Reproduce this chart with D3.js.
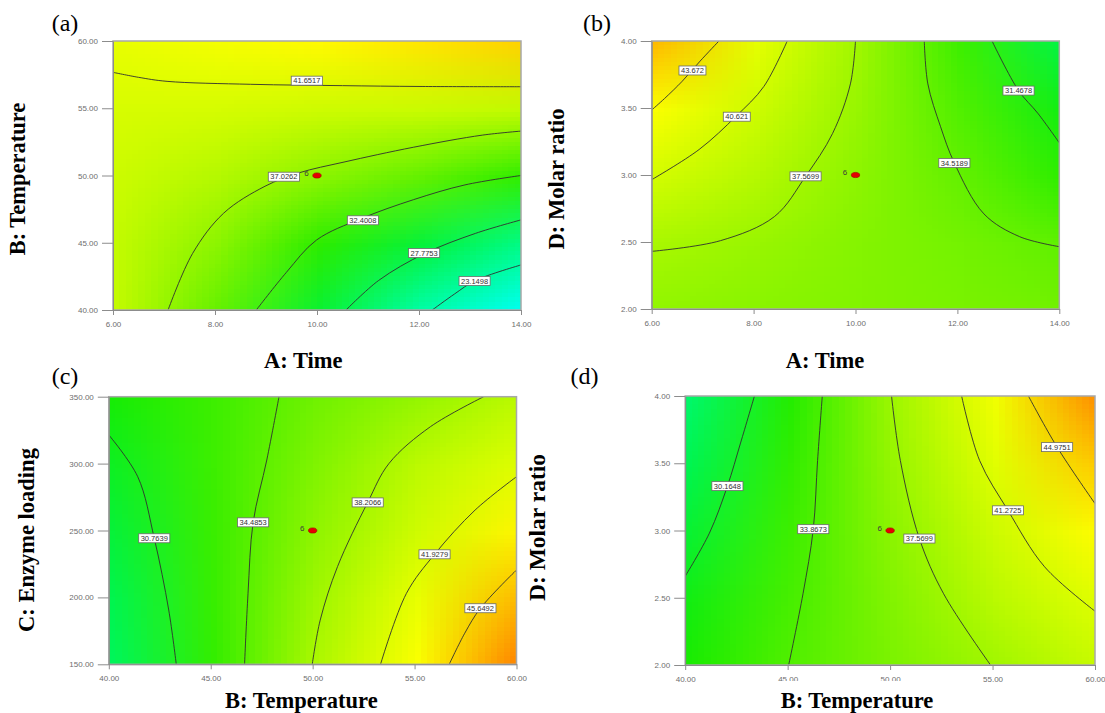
<!DOCTYPE html>
<html>
<head>
<meta charset="utf-8">
<script src="https://cdn.jsdelivr.net/npm/d3@7/dist/d3.min.js"></script>
<style>
  body { margin: 0; background: #fff; }
  .tick text { font-family: Arial, "Liberation Sans", sans-serif; font-size: 8px; fill: #6e6e6e; }
  .tick line, .domain { stroke: #8c8c8c; }
  .axisTitle { font-family: "Liberation Serif", "Times New Roman", serif; font-weight: bold; font-size: 22.5px; fill: #000; }
  .panelTag { font-family: "Liberation Serif", "Times New Roman", serif; font-size: 24px; fill: #000; }
  .clabel text { font-family: Arial, "Liberation Sans", sans-serif; font-size: 7.5px; fill: #333; }
</style>
</head>
<body>
<svg id="chart" width="1105" height="713"></svg>
<script>

// factor ticks
var timeTicks = [6, 8, 10, 12, 14];
var tempTicks = [40, 45, 50, 55, 60];
var enzymeTicks = [150, 200, 250, 300, 350];
var molarTicks = [2, 2.5, 3, 3.5, 4];

// response read at the tick crossings (rows go from lowest y tick up)
var gridA = [
  [39.5, 34.6, 29.3, 23.9, 19.5],
  [39.5, 36.5, 32.3, 28.9, 25.4],
  [40.2, 38.6, 36.5, 34.5, 32.4],
  [41.0, 40.9, 40.3, 40.0, 39.4],
  [42.3, 43.2, 44.2, 45.0, 45.8]
];
var gridB = [
  [36.8, 36.4, 36.0, 35.6, 35.2],
  [38.0, 37.2, 36.2, 35.3, 34.4],
  [40.7, 38.65, 36.6, 34.6, 32.4],
  [43.6, 40.3, 37.1, 33.8, 30.7],
  [46.7, 42.1, 37.57, 33.0, 28.5]
];
var gridC = [
  [27.5, 32.6, 38.2, 43.8, 49.3],
  [28.1, 32.8, 37.5, 42.4, 46.8],
  [29.0, 32.9, 36.7, 40.4, 44.4],
  [30.0, 33.0, 35.9, 39.0, 41.6],
  [31.3, 33.0, 35.1, 37.0, 39.0]
];
var gridD = [
  [31.6, 33.85, 35.7, 37.6, 39.8],
  [30.7, 33.4, 36.1, 38.9, 41.7],
  [29.3, 33.0, 36.6, 40.25, 44.1],
  [28.0, 32.5, 37.1, 41.8, 46.1],
  [26.8, 32.0, 37.5, 43.0, 48.7]
];

// contour lines, in factor units
var contoursA = [
  [[6, 57.67], [6.5, 57.3], [7.06, 57.0], [8.7, 56.78], [10.5, 56.68], [12, 56.62], [14, 56.6]],
  [[7.08, 40], [7.56, 44.2], [8.17, 47.2], [8.98, 49.2], [9.65, 50.2], [10.53, 51.0], [11.89, 52.1], [13.24, 53.0], [14, 53.3]],
  [[8.81, 40], [9.4, 42.8], [9.99, 45.2], [10.87, 46.8], [11.89, 48.2], [12.9, 49.3], [14, 50.0]],
  [[10.57, 40], [11.21, 42.2], [12.11, 44.2], [13.11, 45.7], [14, 46.7]],
  [[12.26, 40], [12.7, 41.2], [13.11, 42.2], [14, 43.35]]
];
var contoursB = [
  [[7.32, 4.0], [6.95, 3.85], [6.6, 3.7], [6.25, 3.57], [6.0, 3.485]],
  [[8.66, 4.0], [8.2, 3.66], [7.66, 3.44], [6.93, 3.19], [6.0, 2.965]],
  [[10.0, 4.0], [9.9, 3.68], [9.55, 3.31], [9.02, 2.99], [8.41, 2.69], [7.35, 2.51], [6.0, 2.43]],
  [[11.35, 4.0], [11.42, 3.68], [11.67, 3.36], [11.94, 3.09], [12.52, 2.71], [13.22, 2.54], [14, 2.465]],
  [[12.68, 4.0], [13.2, 3.63], [13.58, 3.46], [14, 3.24]]
];
var contoursC = [
  [[40, 321.4], [41.42, 290.2], [42.23, 244.2], [42.94, 190.6], [43.31, 150]],
  [[48.35, 350], [47.75, 302.7], [47.08, 256.1], [46.83, 203], [46.66, 150]],
  [[58.39, 350], [55.78, 327.6], [53.75, 300.2], [52.7, 271], [51.22, 223], [50.37, 183], [49.98, 150]],
  [[60, 290.2], [57.97, 265.3], [55.98, 232.2], [54.6, 203], [53.33, 150]],
  [[60, 220.5], [58.23, 191.9], [57.46, 173.2], [56.7, 150]]
];
var contoursD = [
  [[43.38, 4], [42.7, 3.65], [42.06, 3.33], [41.18, 2.98], [40, 2.66]],
  [[46.69, 4], [46.46, 3.52], [46.25, 3.01], [45.75, 2.53], [45.05, 2.0]],
  [[50.07, 4], [50.5, 3.52], [51.43, 2.94], [52.61, 2.53], [54.9, 2.0]],
  [[53.49, 4], [54.37, 3.52], [55.75, 3.15], [57.54, 2.73], [60, 2.40]],
  [[56.75, 4], [58.15, 3.62], [60, 3.2]]
];

// contour level labels and where they sit
var levelsA = ["41.6517", "37.0262", "32.4008", "27.7753", "23.1498"];
var levelPosA = [[9.8, 57.05], [9.35, 49.91], [10.9, 46.67], [12.1, 44.24], [13.09, 42.16]];
var levelsB = ["43.672", "40.621", "37.5699", "34.5189", "31.4678"];
var levelPosB = [[6.8, 3.78], [7.67, 3.435], [9.02, 2.99], [11.94, 3.09], [13.2, 3.63]];
var levelsC = ["30.7639", "34.4853", "38.2066", "41.9279", "45.6492"];
var levelPosC = [[42.23, 244.2], [47.08, 256.1], [52.7, 271], [55.98, 232.2], [58.23, 191.9]];
var levelsD = ["30.1648", "33.8673", "37.5699", "41.2725", "44.9751"];
var levelPosD = [[42.06, 3.33], [46.25, 3.01], [51.43, 2.94], [55.75, 3.15], [58.15, 3.62]];

// centre point of the design, with its replicate count
var centreA = [10, 50], centreB = [10, 3], centreC = [50, 250], centreD = [50, 3];
var centreCount = "6";

var svg = d3.select("#chart");

var colorScale = d3.scaleLinear()
    .domain([19, 24, 28, 31.5, 35, 39, 42, 44, 46.5, 49.5])
    .range(["#00ffff", "#00ffa8", "#00f550", "#18ec00", "#6ef200", "#bcfa00", "#e4ff00", "#ffff00", "#ffc000", "#ff7a00"])
    .clamp(true);

var panels = [
  {tag: "a", grid: gridA, xTicks: timeTicks, yTicks: tempTicks, contours: contoursA, levels: levelsA, levelPos: levelPosA, centre: centreA,
   left: 113, right: 521, top: 41, bottom: 310},
  {tag: "b", grid: gridB, xTicks: timeTicks, yTicks: molarTicks, contours: contoursB, levels: levelsB, levelPos: levelPosB, centre: centreB,
   left: 651.7, right: 1059.3, top: 41, bottom: 309},
  {tag: "c", grid: gridC, xTicks: tempTicks, yTicks: enzymeTicks, contours: contoursC, levels: levelsC, levelPos: levelPosC, centre: centreC,
   left: 108.8, right: 516.5, top: 396.7, bottom: 664.3},
  {tag: "d", grid: gridD, xTicks: tempTicks, yTicks: molarTicks, contours: contoursD, levels: levelsD, levelPos: levelPosD, centre: centreD,
   left: 685.2, right: 1095, top: 396, bottom: 665}
];

function drawPanel(p) {
  var x = d3.scaleLinear().domain(d3.extent(p.xTicks)).range([p.left, p.right]);
  var y = d3.scaleLinear().domain(d3.extent(p.yTicks)).range([p.bottom, p.top]);
  var g = svg.append("g").attr("class", "panel-" + p.tag);
  var clipId = "clip-" + p.tag;

  g.append("clipPath").attr("id", clipId)
    .append("rect")
      .attr("x", p.left).attr("y", p.top)
      .attr("width", p.right - p.left).attr("height", p.bottom - p.top);

  // one pixel per grid value, the browser smooths it when stretched
  var nx = p.xTicks.length, ny = p.yTicks.length;
  var canvas = document.createElement("canvas");
  canvas.width = nx;
  canvas.height = ny;
  var ctx = canvas.getContext("2d");
  p.grid.forEach(function(row, j) {
    row.forEach(function(v, i) {
      ctx.fillStyle = colorScale(v);
      ctx.fillRect(i, ny - 1 - j, 1, 1);
    });
  });
  var dx = x(p.xTicks[1]) - x(p.xTicks[0]);
  var dy = y(p.yTicks[0]) - y(p.yTicks[1]);
  g.append("image")
    .attr("href", canvas.toDataURL())
    .attr("x", x(p.xTicks[0]) - dx / 2)
    .attr("y", y(p.yTicks[ny - 1]) - dy / 2)
    .attr("width", dx * nx)
    .attr("height", dy * ny)
    .attr("preserveAspectRatio", "none")
    .attr("clip-path", "url(#" + clipId + ")");

  // contour lines
  var line = d3.line()
      .x(function(d) { return x(d[0]); })
      .y(function(d) { return y(d[1]); })
      .curve(d3.curveCatmullRom.alpha(0.5));

  g.append("g")
      .attr("clip-path", "url(#" + clipId + ")")
    .selectAll("path")
      .data(p.contours)
    .enter().append("path")
      .attr("d", line)
      .attr("fill", "none")
      .attr("stroke", "#303030")
      .attr("stroke-width", 0.9);

  // frame
  g.append("rect")
    .attr("x", p.left).attr("y", p.top)
    .attr("width", p.right - p.left).attr("height", p.bottom - p.top)
    .attr("fill", "none")
    .attr("stroke", "#a8a8a8")
    .attr("stroke-width", 1.5);

  // axes
  var yAxis = d3.axisLeft(y)
      .tickValues(p.yTicks)
      .tickFormat(d3.format(".2f"))
      .tickSize(11).tickSizeOuter(0).tickPadding(4);
  var xAxis = d3.axisBottom(x)
      .tickValues(p.xTicks)
      .tickFormat(d3.format(".2f"))
      .tickSize(5).tickSizeOuter(0).tickPadding(6);

  g.append("g").attr("class", "yAxis")
    .attr("transform", "translate(" + p.left + ",0)")
    .call(yAxis);
  g.append("g").attr("class", "xAxis")
    .attr("transform", "translate(0," + p.bottom + ")")
    .call(xAxis);
  g.selectAll(".tick text").attr("font-family", null).attr("font-size", null);

  // level labels on the lines
  var labels = g.selectAll(".clabel")
      .data(p.levels.map(function(t, i) { return {text: t, pos: p.levelPos[i]}; }))
    .enter().append("g")
      .attr("class", "clabel")
      .attr("transform", function(d) { return "translate(" + x(d.pos[0]) + "," + y(d.pos[1]) + ")"; });
  labels.append("text")
      .attr("text-anchor", "middle")
      .attr("dy", "0.36em")
      .text(function(d) { return d.text; });
  labels.each(function() {
    var el = d3.select(this);
    var w = el.select("text").node().getComputedTextLength() + 4;
    el.insert("rect", "text")
      .attr("x", -w / 2).attr("y", -4.5)
      .attr("width", w).attr("height", 9)
      .attr("fill", "#fff")
      .attr("stroke", "#6a6a6a")
      .attr("stroke-width", 0.8);
  });

  // design centre point
  g.append("ellipse")
    .attr("cx", x(p.centre[0])).attr("cy", y(p.centre[1]))
    .attr("rx", 4.2).attr("ry", 2.6)
    .attr("fill", "#e60000")
    .attr("stroke", "#a00000")
    .attr("stroke-width", 0.6);
  g.append("text")
    .attr("x", x(p.centre[0]) - 10.4).attr("y", y(p.centre[1]) - 2.4)
    .attr("dy", "0.35em")
    .attr("text-anchor", "middle")
    .style("font-family", "Arial, sans-serif")
    .style("font-size", "8px")
    .style("fill", "#3c3c3c")
    .text(centreCount);
}

panels.forEach(drawPanel);

// white boxes behind the lower axis titles clip some tick labels, as in the source figure
svg.append("rect").attr("x", 195).attr("y", 681).attr("width", 235).attr("height", 32).attr("fill", "#fff");
svg.append("rect").attr("x", 770).attr("y", 681).attr("width", 174).attr("height", 32).attr("fill", "#fff");

// panel tags
var tags = [["(a)", 51.7, 30.7], ["(b)", 583, 30.7], ["(c)", 51.7, 383.7], ["(d)", 570.6, 383.7]];
svg.selectAll(".panelTag")
    .data(tags)
  .enter().append("text")
    .attr("class", "panelTag")
    .attr("x", function(d) { return d[1]; })
    .attr("y", function(d) { return d[2]; })
    .text(function(d) { return d[0]; });

// axis titles
var xTitles = [["A: Time", 303.3, 368], ["A: Time", 825, 368], ["B: Temperature", 301.3, 707.5], ["B: Temperature", 857, 707.5]];
svg.selectAll(".xTitle")
    .data(xTitles)
  .enter().append("text")
    .attr("class", "axisTitle xTitle")
    .attr("text-anchor", "middle")
    .attr("x", function(d) { return d[1]; })
    .attr("y", function(d) { return d[2]; })
    .text(function(d) { return d[0]; });

var yTitles = [["B: Temperature", 17.2, 179, 22.5], ["D: Molar ratio", 556.2, 179, 22.5],
               ["C: Enzyme loading", 25.8, 540, 22.5], ["D: Molar ratio", 536.7, 527.5, 23.5]];
svg.selectAll(".yTitle")
    .data(yTitles)
  .enter().append("text")
    .attr("class", "axisTitle yTitle")
    .attr("text-anchor", "middle")
    .attr("dy", "0.35em")
    .style("font-size", function(d) { return d[3] + "px"; })
    .attr("transform", function(d) { return "translate(" + d[1] + "," + d[2] + ") rotate(-90)"; })
    .text(function(d) { return d[0]; });

</script>
</body>
</html>
